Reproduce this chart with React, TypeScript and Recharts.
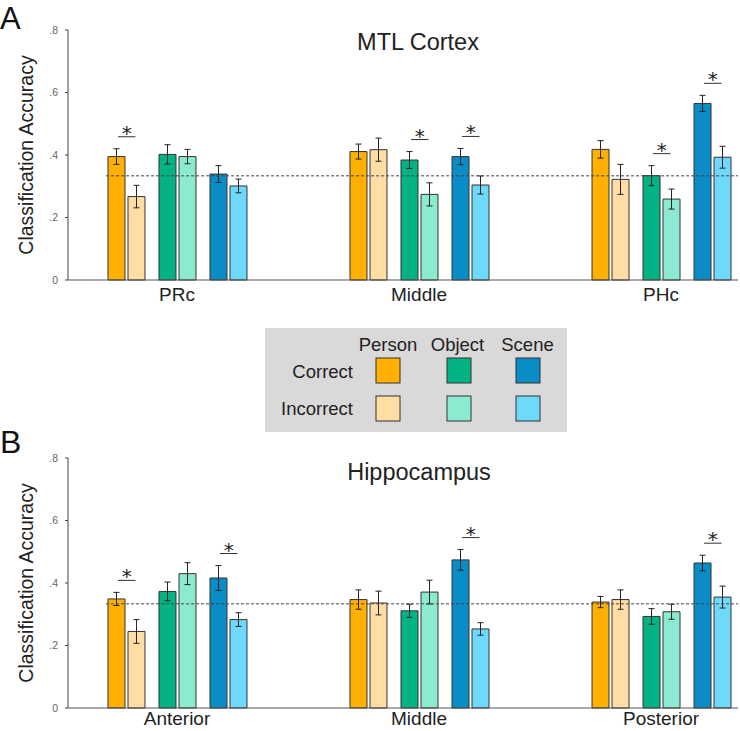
import React from "react";
import { BarChart, Bar, XAxis, YAxis, ErrorBar, ReferenceLine, Rectangle } from "recharts";

const FONT = '"Liberation Sans", Arial, Helvetica, sans-serif';

// bar fills
const PERSON_CORRECT_COLOR = "#FFB000";
const PERSON_INCORRECT_COLOR = "#FFDDA3";
const OBJECT_CORRECT_COLOR = "#03B386";
const OBJECT_INCORRECT_COLOR = "#8CEAD0";
const SCENE_CORRECT_COLOR = "#0A8DC6";
const SCENE_INCORRECT_COLOR = "#6FD9FB";

const CHANCE = 1 / 3;

// Panel A: MTL cortex
const REGIONS_A = ["PRc", "Middle", "PHc"];
const PERSON_CORRECT_A = [0.395, 0.411, 0.418];
const PERSON_CORRECT_A_ERR = [0.025, 0.024, 0.028];
const PERSON_INCORRECT_A = [0.267, 0.417, 0.322];
const PERSON_INCORRECT_A_ERR = [0.036, 0.037, 0.048];
const OBJECT_CORRECT_A = [0.402, 0.384, 0.334];
const OBJECT_CORRECT_A_ERR = [0.031, 0.027, 0.032];
const OBJECT_INCORRECT_A = [0.395, 0.274, 0.259];
const OBJECT_INCORRECT_A_ERR = [0.023, 0.037, 0.032];
const SCENE_CORRECT_A = [0.339, 0.395, 0.565];
const SCENE_CORRECT_A_ERR = [0.027, 0.026, 0.026];
const SCENE_INCORRECT_A = [0.301, 0.304, 0.393];
const SCENE_INCORRECT_A_ERR = [0.022, 0.029, 0.035];
const SIG_PERSON_A = [true, false, false];
const SIG_OBJECT_A = [false, true, true];
const SIG_SCENE_A = [false, true, true];

// Panel B: hippocampus
const REGIONS_B = ["Anterior", "Middle", "Posterior"];
const PERSON_CORRECT_B = [0.349, 0.347, 0.339];
const PERSON_CORRECT_B_ERR = [0.021, 0.031, 0.018];
const PERSON_INCORRECT_B = [0.245, 0.336, 0.347];
const PERSON_INCORRECT_B_ERR = [0.038, 0.038, 0.031];
const OBJECT_CORRECT_B = [0.373, 0.311, 0.293];
const OBJECT_CORRECT_B_ERR = [0.03, 0.021, 0.025];
const OBJECT_INCORRECT_B = [0.43, 0.371, 0.308];
const OBJECT_INCORRECT_B_ERR = [0.035, 0.038, 0.024];
const SCENE_CORRECT_B = [0.416, 0.474, 0.464];
const SCENE_CORRECT_B_ERR = [0.04, 0.033, 0.025];
const SCENE_INCORRECT_B = [0.283, 0.253, 0.355];
const SCENE_INCORRECT_B_ERR = [0.022, 0.02, 0.035];
const SIG_PERSON_B = [true, false, false];
const SIG_OBJECT_B = [false, false, false];
const SIG_SCENE_B = [true, true, true];

const Y_TICKS = [0, 0.2, 0.4, 0.6, 0.8];

// layout
const BAR_SIZE = 17;
const BAR_GAP = 3;
const SPACER = 8;
const X_MIN = -0.4504;
const X_MAX = 2.318;
const CHANCE_FROM = -0.293;

type Series = { pc: number[]; pcErr: number[]; pi: number[]; piErr: number[]; oc: number[]; ocErr: number[]; oi: number[]; oiErr: number[]; sc: number[]; scErr: number[]; si: number[]; siErr: number[]; sigP: boolean[]; sigO: boolean[]; sigS: boolean[] };

function buildRows(regions: string[], s: Series) {
  return regions.map((region, i) => ({
    idx: i,
    region,
    pc: s.pc[i], pcErr: s.pcErr[i],
    pi: s.pi[i], piErr: s.piErr[i],
    oc: s.oc[i], ocErr: s.ocErr[i],
    oi: s.oi[i], oiErr: s.oiErr[i],
    sc: s.sc[i], scErr: s.scErr[i],
    si: s.si[i], siErr: s.siErr[i],
    sigP: s.sigP[i], sigO: s.sigO[i], sigS: s.sigS[i],
  }));
}

// draws the incorrect bar, plus the "*" bracket over the pair when flagged
function sigShape(correct: string, incorrect: string, sig: string) {
  return (props: any) => {
    const { x, y, width, height, payload } = props;
    const rect = <Rectangle {...props} />;
    if (!payload || !payload[sig] || !(payload[incorrect] > 0)) return rect;
    const ppu = height / payload[incorrect];
    const top = Math.max(payload[correct] + payload[correct + "Err"], payload[incorrect] + payload[incorrect + "Err"]);
    const lineY = y + height - top * ppu - 12;
    const x1 = x - BAR_GAP - width / 2 + 1.5;
    const x2 = x + width / 2 - 1;
    return (
      <g>
        {rect}
        <line x1={x1} x2={x2} y1={lineY} y2={lineY} stroke="#333" strokeWidth={1} />
        <text x={(x1 + x2) / 2} y={lineY + 3} textAnchor="middle" fontSize={20} fontFamily='"DejaVu Sans", sans-serif' fill="#222">
          *
        </text>
      </g>
    );
  };
}

const fmtY = (v: number) => (v === 0 ? "0" : v.toFixed(1).replace(/^0/, ""));

function Panel({ rows, regions, height, xAxisHeight, labelGap }: { rows: any[]; regions: string[]; height: number; xAxisHeight: number; labelGap: number }) {
  const err = <ErrorBar width={3} strokeWidth={1} stroke="#222" direction="y" />;
  return (
    <BarChart width={740} height={height} data={rows} margin={{ top: 30, right: 2, bottom: 0, left: 0 }} barGap={BAR_GAP}>
      <XAxis
        type="number"
        dataKey="idx"
        domain={[X_MIN, X_MAX]}
        ticks={[0, 1, 2]}
        interval={0}
        allowDataOverflow
        tickFormatter={(i: number) => regions[i] ?? ""}
        tickLine={false}
        tickSize={0}
        tickMargin={labelGap}
        height={xAxisHeight}
        axisLine={{ stroke: "#555", strokeWidth: 1.2 }}
        tick={{ fill: "#222", fontSize: 19, fontFamily: FONT }}
      />
      <YAxis
        type="number"
        domain={[0, 0.8]}
        ticks={Y_TICKS}
        interval={0}
        width={68}
        tickSize={3}
        tickMargin={7}
        tickFormatter={fmtY}
        axisLine={{ stroke: "#444" }}
        tickLine={{ stroke: "#444" }}
        tick={{ fill: "#666", fontSize: 10.5, fontFamily: FONT }}
      />
      <Bar dataKey="pc" barSize={BAR_SIZE} fill={PERSON_CORRECT_COLOR} stroke="#333" strokeWidth={1} isAnimationActive={false}>
        {React.cloneElement(err, { dataKey: "pcErr" })}
      </Bar>
      <Bar dataKey="pi" barSize={BAR_SIZE} fill={PERSON_INCORRECT_COLOR} stroke="#333" strokeWidth={1} isAnimationActive={false} shape={sigShape("pc", "pi", "sigP")}>
        {React.cloneElement(err, { dataKey: "piErr" })}
      </Bar>
      <Bar dataKey="gap1" barSize={SPACER} fill="none" isAnimationActive={false} />
      <Bar dataKey="oc" barSize={BAR_SIZE} fill={OBJECT_CORRECT_COLOR} stroke="#333" strokeWidth={1} isAnimationActive={false}>
        {React.cloneElement(err, { dataKey: "ocErr" })}
      </Bar>
      <Bar dataKey="oi" barSize={BAR_SIZE} fill={OBJECT_INCORRECT_COLOR} stroke="#333" strokeWidth={1} isAnimationActive={false} shape={sigShape("oc", "oi", "sigO")}>
        {React.cloneElement(err, { dataKey: "oiErr" })}
      </Bar>
      <Bar dataKey="gap2" barSize={SPACER} fill="none" isAnimationActive={false} />
      <Bar dataKey="sc" barSize={BAR_SIZE} fill={SCENE_CORRECT_COLOR} stroke="#333" strokeWidth={1} isAnimationActive={false}>
        {React.cloneElement(err, { dataKey: "scErr" })}
      </Bar>
      <Bar dataKey="si" barSize={BAR_SIZE} fill={SCENE_INCORRECT_COLOR} stroke="#333" strokeWidth={1} isAnimationActive={false} shape={sigShape("sc", "si", "sigS")}>
        {React.cloneElement(err, { dataKey: "siErr" })}
      </Bar>
      <ReferenceLine
        segment={[{ x: CHANCE_FROM, y: CHANCE }, { x: X_MAX, y: CHANCE }]}
        stroke="#444"
        strokeDasharray="3 2"
        strokeWidth={1}
        ifOverflow="visible"
      />
    </BarChart>
  );
}

const LEGEND_COLS = ["Person", "Object", "Scene"];
const LEGEND_ROWS = ["Correct", "Incorrect"];
const LEGEND_COLORS = [
  [PERSON_CORRECT_COLOR, OBJECT_CORRECT_COLOR, SCENE_CORRECT_COLOR],
  [PERSON_INCORRECT_COLOR, OBJECT_INCORRECT_COLOR, SCENE_INCORRECT_COLOR],
];

function Overlay() {
  const colX = [388, 459, 528];
  const headX = [388, 457.5, 527.5];
  const rowY = [358, 396];
  const rowBase = [378, 415];
  return (
    <svg width={740} height={731} style={{ position: "absolute", left: 0, top: 0, pointerEvents: "none" }} fontFamily={FONT}>
      <text x={0} y={28.5} fontSize={31} fill="#111">A</text>
      <text x={0} y={453} fontSize={32} fill="#111">B</text>
      <text x={418} y={50} fontSize={23.5} textAnchor="middle" fill="#222">MTL Cortex</text>
      <text x={419} y={480} fontSize={23.5} textAnchor="middle" fill="#222">Hippocampus</text>
      <text x={26} y={155} fontSize={19.5} textAnchor="middle" dominantBaseline="central" transform="rotate(-90, 26, 155)" fill="#222">
        Classification Accuracy
      </text>
      <text x={26} y={583} fontSize={19.5} textAnchor="middle" dominantBaseline="central" transform="rotate(-90, 26, 583)" fill="#222">
        Classification Accuracy
      </text>

      <rect x={265} y={328} width={302} height={104} fill="#D9D9D9" />
      {LEGEND_COLS.map((c, j) => (
        <text key={c} x={headX[j]} y={351} fontSize={18.5} textAnchor="middle" fill="#222">{c}</text>
      ))}
      {LEGEND_ROWS.map((r, i) => (
        <g key={r}>
          <text x={353} y={rowBase[i]} fontSize={18.5} textAnchor="end" fill="#222">{r}</text>
          {LEGEND_COLORS[i].map((col, j) => (
            <rect key={j} x={colX[j] - 12} y={rowY[i]} width={24} height={25} fill={col} stroke="#333" strokeWidth={1} />
          ))}
        </g>
      ))}
    </svg>
  );
}

export default function App() {
  const rowsA = buildRows(REGIONS_A, {
    pc: PERSON_CORRECT_A, pcErr: PERSON_CORRECT_A_ERR,
    pi: PERSON_INCORRECT_A, piErr: PERSON_INCORRECT_A_ERR,
    oc: OBJECT_CORRECT_A, ocErr: OBJECT_CORRECT_A_ERR,
    oi: OBJECT_INCORRECT_A, oiErr: OBJECT_INCORRECT_A_ERR,
    sc: SCENE_CORRECT_A, scErr: SCENE_CORRECT_A_ERR,
    si: SCENE_INCORRECT_A, siErr: SCENE_INCORRECT_A_ERR,
    sigP: SIG_PERSON_A, sigO: SIG_OBJECT_A, sigS: SIG_SCENE_A,
  });
  const rowsB = buildRows(REGIONS_B, {
    pc: PERSON_CORRECT_B, pcErr: PERSON_CORRECT_B_ERR,
    pi: PERSON_INCORRECT_B, piErr: PERSON_INCORRECT_B_ERR,
    oc: OBJECT_CORRECT_B, ocErr: OBJECT_CORRECT_B_ERR,
    oi: OBJECT_INCORRECT_B, oiErr: OBJECT_INCORRECT_B_ERR,
    sc: SCENE_CORRECT_B, scErr: SCENE_CORRECT_B_ERR,
    si: SCENE_INCORRECT_B, siErr: SCENE_INCORRECT_B_ERR,
    sigP: SIG_PERSON_B, sigO: SIG_OBJECT_B, sigS: SIG_SCENE_B,
  });

  return (
    <div style={{ position: "relative", width: 740, height: 731, background: "#fff", overflow: "hidden" }}>
      <style>{"body{margin:0}"}</style>
      <div style={{ position: "absolute", left: 0, top: 0 }}>
        <Panel rows={rowsA} regions={REGIONS_A} height={320} xAxisHeight={40} labelGap={8} />
      </div>
      <div style={{ position: "absolute", left: 0, top: 428 }}>
        <Panel rows={rowsB} regions={REGIONS_B} height={303} xAxisHeight={23} labelGap={4} />
      </div>
      <Overlay />
    </div>
  );
}
